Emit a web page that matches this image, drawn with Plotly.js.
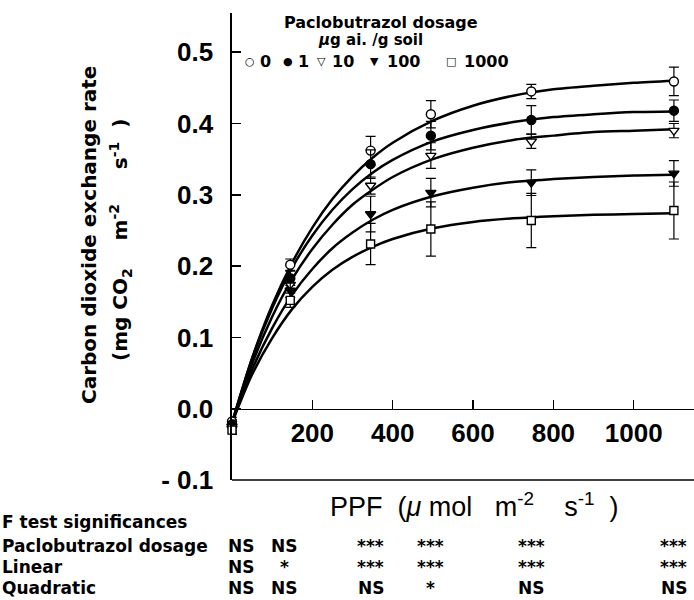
<!DOCTYPE html>
<html>
<head>
<meta charset="utf-8">
<script src="https://cdn.plot.ly/plotly-3.0.1.min.js"></script>
<style>html,body{margin:0;padding:0;background:#fff;}#chart{width:694px;height:600px;}</style>
</head>
<body>
<div id="chart"></div>
<script>
// ---- data ----
const ppf = [0, 145, 345, 495, 745, 1100];
const dosageLabels = ['0', '1', '10', '100', '1000'];

const cer_0    = [-0.018, 0.202, 0.362, 0.413, 0.445, 0.459];
const cer_1    = [-0.022, 0.183, 0.343, 0.383, 0.405, 0.418];
const cer_10   = [-0.025, 0.174, 0.313, 0.355, 0.375, 0.390];
const cer_100  = [-0.028, 0.166, 0.273, 0.303, 0.317, 0.330];
const cer_1000 = [-0.030, 0.152, 0.231, 0.252, 0.264, 0.278];

const se_0    = [0.006, 0.008, 0.020, 0.019, 0.010, 0.020];
const se_1    = [0.006, 0.010, 0.020, 0.020, 0.020, 0.015];
const se_10   = [0.006, 0.008, 0.012, 0.018, 0.010, 0.010];
const se_100  = [0.006, 0.010, 0.025, 0.020, 0.018, 0.018];
const se_1000 = [0.006, 0.010, 0.029, 0.038, 0.038, 0.040];

const fitPPF   = [0, 50, 100, 150, 200, 250, 300, 350, 400, 500, 600, 700, 800, 900, 1000, 1100];
const fit_0    = [-0.020, 0.071, 0.145, 0.205, 0.254, 0.294, 0.326, 0.352, 0.373, 0.404, 0.425, 0.439, 0.448, 0.453, 0.457, 0.460];
const fit_1    = [-0.020, 0.070, 0.141, 0.198, 0.243, 0.279, 0.308, 0.331, 0.349, 0.375, 0.391, 0.402, 0.409, 0.413, 0.416, 0.417];
const fit_10   = [-0.020, 0.063, 0.129, 0.182, 0.224, 0.258, 0.286, 0.307, 0.325, 0.350, 0.366, 0.377, 0.383, 0.388, 0.390, 0.392];
const fit_100  = [-0.020, 0.055, 0.113, 0.160, 0.196, 0.225, 0.247, 0.265, 0.279, 0.298, 0.310, 0.318, 0.322, 0.325, 0.327, 0.328];
const fit_1000 = [-0.020, 0.048, 0.099, 0.140, 0.171, 0.195, 0.213, 0.227, 0.238, 0.253, 0.262, 0.267, 0.270, 0.272, 0.273, 0.274];

const yTickVals = [-0.1, 0, 0.1, 0.2, 0.3, 0.4, 0.5];
const yTickText = ['- 0.1', '0.0', '0.1', '0.2', '0.3', '0.4', '0.5'];
const xTickVals = [200, 400, 600, 800, 1000];
const xTickText = ['200', '400', '600', '800', '1000'];

const fRowLabels = ['Paclobutrazol dosage', 'Linear', 'Quadratic'];
const fDosage    = ['NS', 'NS', '***', '***', '***', '***'];
const fLinear    = ['NS', '*', '***', '***', '***', '***'];
const fQuadratic = ['NS', 'NS', 'NS', '*', 'NS', 'NS'];

// ---- layout geometry ----
const W = 694, H = 600;
const mL = 232, mR = 0, mT = 13, mB = 120;
const plotW = W - mL - mR, plotH = H - mT - mB;
const yRange = [-0.1, 0.555];
const xRange = [0, 1150];
const pxX = p => (p - mL) / plotW;            // pixel -> paper x
const pxY = p => (H - mB - p) / plotH;        // pixel -> paper y

const K = '#000';
const symbols = ['circle', 'circle', 'triangle-down', 'triangle-down', 'square'];
const fills   = ['#fff', K, '#fff', K, '#fff'];
const cerAll = [cer_0, cer_1, cer_10, cer_100, cer_1000];
const seAll  = [se_0, se_1, se_10, se_100, se_1000];
const fitAll = [fit_0, fit_1, fit_10, fit_100, fit_1000];

const traces = [];
fitAll.forEach((f, i) => {
  traces.push({
    x: fitPPF, y: f, mode: 'lines', type: 'scatter',
    line: {color: K, width: 2.5, shape: 'spline', smoothing: 0.8},
    showlegend: false, hoverinfo: 'skip', name: 'fit ' + dosageLabels[i]
  });
});
cerAll.forEach((c, i) => {
  traces.push({
    x: ppf, y: c, mode: 'markers', type: 'scatter',
    name: dosageLabels[i], showlegend: false, cliponaxis: false,
    marker: {symbol: symbols[i], size: symbols[i] === 'square' ? 8 : 9, color: fills[i], line: {color: K, width: 1.4}},
    error_y: {type: 'data', array: seAll[i], visible: true, color: K, thickness: 1.2, width: 5}
  });
});

const small = {family: 'DejaVu Sans', size: 16, color: K, weight: 'bold'};
const tableFont = {family: 'DejaVu Sans', size: 17, color: K, weight: 'bold'};
const annotations = [];

// legend block
annotations.push({xref: 'paper', yref: 'paper', x: pxX(381), y: pxY(22), text: 'Paclobutrazol dosage', showarrow: false, xanchor: 'center', yanchor: 'middle', font: small});
annotations.push({xref: 'paper', yref: 'paper', x: pxX(370), y: pxY(40), text: '<i>μ</i>g ai. /g soil', showarrow: false, xanchor: 'center', yanchor: 'middle', font: {family: 'DejaVu Sans', size: 15, color: K, weight: 'bold'}});
const legGlyphs = ['○', '●', '▽', '▼', '□'];
const legGlyphX = [250, 288, 321, 374, 451];
const legTextX  = [258, 296, 330, 385, 462];
dosageLabels.forEach((d, i) => {
  annotations.push({xref: 'paper', yref: 'paper', x: pxX(legGlyphX[i]), y: pxY(61), text: legGlyphs[i], showarrow: false, xanchor: 'center', yanchor: 'middle', font: {family: 'DejaVu Sans', size: 11, color: K}});
  annotations.push({xref: 'paper', yref: 'paper', x: pxX(legTextX[i]), y: pxY(61), text: d, showarrow: false, xanchor: 'left', yanchor: 'middle', font: small});
});

// axis titles
annotations.push({xref: 'paper', yref: 'paper', x: pxX(89), y: pxY(235), text: 'Carbon dioxide exchange rate', textangle: -90, showarrow: false, xanchor: 'center', yanchor: 'middle', font: {family: 'DejaVu Sans', size: 20, color: K, weight: 'bold'}});
annotations.push({xref: 'paper', yref: 'paper', x: pxX(120), y: pxY(240), text: '(mg CO<sub>2</sub>\u00a0\u00a0\u00a0\u00a0m<sup>-2</sup>\u00a0\u00a0\u00a0\u00a0\u00a0s<sup>-1</sup>\u00a0\u00a0)', textangle: -90, showarrow: false, xanchor: 'center', yanchor: 'middle', font: {family: 'DejaVu Sans', size: 20, color: K, weight: 'bold'}});
annotations.push({xref: 'paper', yref: 'paper', x: pxX(474), y: pxY(505), text: 'PPF\u00a0\u00a0(<i>μ</i>\u00a0mol\u00a0\u00a0\u00a0m<sup>-2</sup>\u00a0\u00a0\u00a0\u00a0s<sup>-1</sup>\u00a0\u00a0)', showarrow: false, xanchor: 'center', yanchor: 'middle', font: {family: 'Liberation Sans', size: 27, color: K}});

// F-test table
annotations.push({xref: 'paper', yref: 'paper', x: pxX(0), y: pxY(522), text: 'F test significances', showarrow: false, xanchor: 'left', yanchor: 'middle', font: tableFont});
const rowY = [546, 567, 588];
const rowVals = [fDosage, fLinear, fQuadratic];
const colShift = [9, -6, 0, 0, 0, 0];
fRowLabels.forEach((lab, r) => {
  annotations.push({xref: 'paper', yref: 'paper', x: pxX(0), y: pxY(rowY[r]), text: lab, showarrow: false, xanchor: 'left', yanchor: 'middle', font: tableFont});
  rowVals[r].forEach((v, c) => {
    annotations.push({xref: 'x', yref: 'paper', x: ppf[c], xshift: colShift[c], y: pxY(rowY[r]), text: v, showarrow: false, xanchor: 'center', yanchor: 'middle', font: tableFont});
  });
});

const tickFont = {family: 'Liberation Sans', size: 26, color: K, weight: 'bold'};
const layout = {
  width: W, height: H,
  margin: {l: mL, r: mR, t: mT, b: mB, pad: 0},
  paper_bgcolor: '#fff', plot_bgcolor: '#fff',
  showlegend: false,
  xaxis: {
    range: xRange, anchor: 'free', position: (0 - yRange[0]) / (yRange[1] - yRange[0]),
    showline: true, linecolor: K, linewidth: 1.6, showgrid: false, zeroline: false,
    ticks: 'inside', ticklen: 9, tickwidth: 1.5, tickcolor: K,
    tickmode: 'array', tickvals: xTickVals, ticktext: xTickText,
    tickfont: tickFont, ticklabelstandoff: 0
  },
  yaxis: {
    range: yRange, anchor: 'x',
    showline: true, linecolor: K, linewidth: 1.6, showgrid: false, zeroline: false,
    ticks: 'inside', ticklen: 9, tickwidth: 1.5, tickcolor: K,
    tickmode: 'array', tickvals: yTickVals, ticktext: yTickText,
    tickfont: tickFont, ticklabelstandoff: 12
  },
  shapes: [{type: 'line', xref: 'paper', yref: 'paper', x0: 0, x1: 1, y0: 0, y1: 0, line: {color: K, width: 1.6}}],
  annotations: annotations
};

Plotly.newPlot('chart', traces, layout, {staticPlot: true, displayModeBar: false});
</script>
</body>
</html>
